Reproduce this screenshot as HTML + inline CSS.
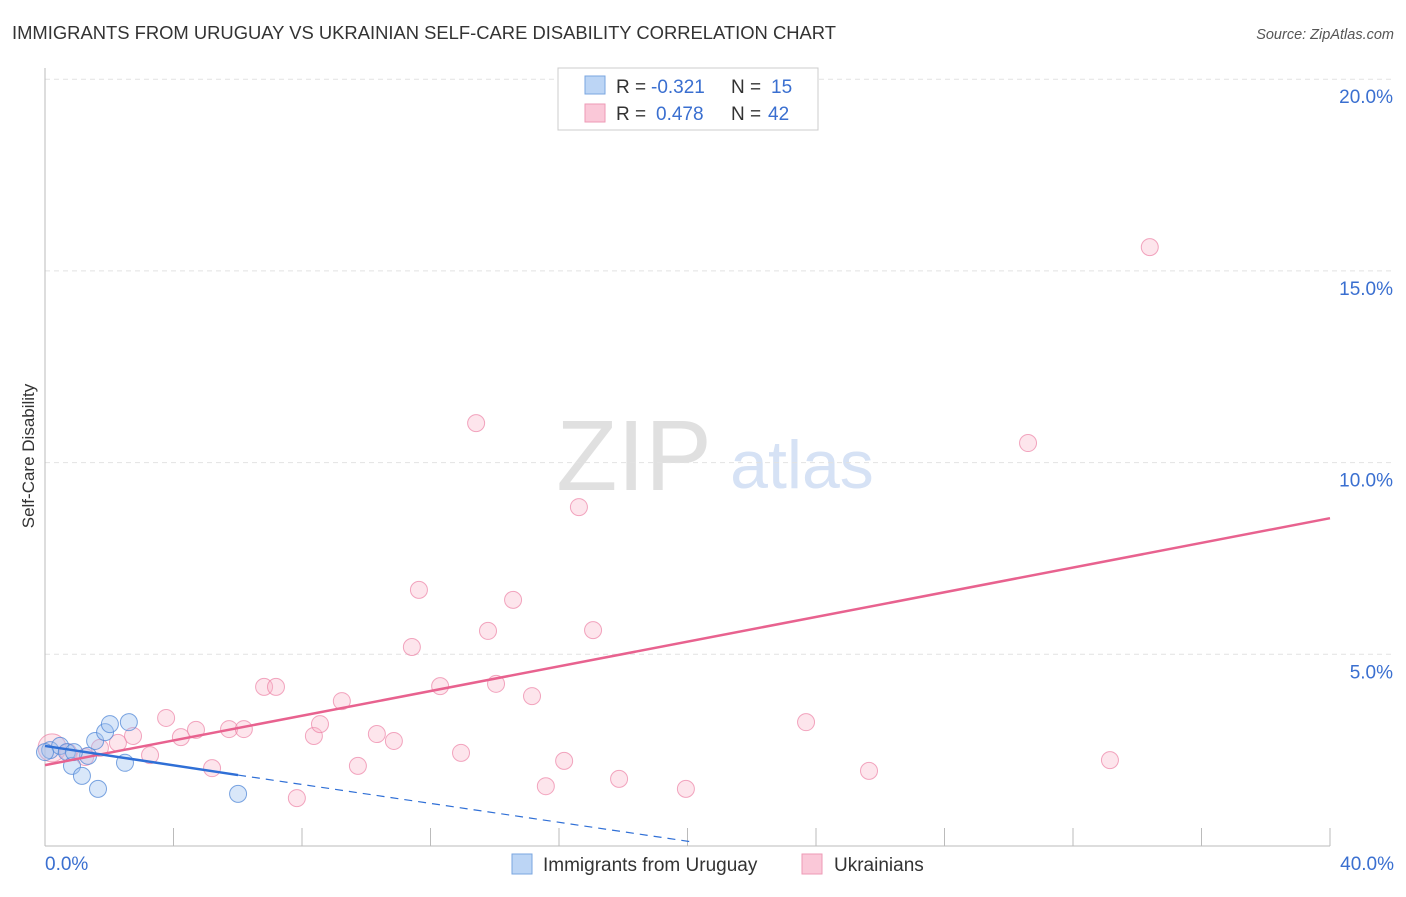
<!DOCTYPE html>
<html><head><meta charset="utf-8"><style>
body{margin:0;background:#fff;font-family:"Liberation Sans",sans-serif;}
svg text{font-family:"Liberation Sans",sans-serif;}
</style></head><body>
<svg id="c" width="1406" height="892">
<text x="12" y="39" font-size="18.4" fill="#333">IMMIGRANTS FROM URUGUAY VS UKRAINIAN SELF-CARE DISABILITY CORRELATION CHART</text>
<text x="1394" y="39" font-size="14.5" fill="#555" font-style="italic" text-anchor="end">Source: ZipAtlas.com</text>
<text x="34" y="456" font-size="17" fill="#333" text-anchor="middle" transform="rotate(-90 34 456)">Self-Care Disability</text>
<text x="634" y="490" font-size="100" fill="#e0e0e0" font-family="Liberation Serif" text-anchor="middle">ZIP</text>
<text x="802" y="488" font-size="68" fill="#d6e2f5" text-anchor="middle">atlas</text>
<g id="grid"></g><g id="marks"></g>
<g>
<rect x="558" y="68" width="260" height="62" fill="#fff" stroke="#ccc"/>
<rect x="585" y="76" width="20" height="18" fill="#bcd5f5" stroke="#7aa6e0"/>
<rect x="585" y="104" width="20" height="18" fill="#fac8d8" stroke="#ee9ab6"/>
<text x="616" y="93" font-size="19" fill="#333">R =</text>
<text x="651" y="93" font-size="19" fill="#3a6fd0">-0.321</text>
<text x="731" y="93" font-size="19" fill="#333">N =</text>
<text x="771" y="93" font-size="19" fill="#3a6fd0">15</text>
<text x="616" y="120" font-size="19" fill="#333">R =</text>
<text x="656" y="120" font-size="19" fill="#3a6fd0">0.478</text>
<text x="731" y="120" font-size="19" fill="#333">N =</text>
<text x="768" y="120" font-size="19" fill="#3a6fd0">42</text>
</g>
<g>
<rect x="512" y="854" width="20" height="20" fill="#bcd5f5" stroke="#7aa6e0"/>
<text x="543" y="871" font-size="19" fill="#333">Immigrants from Uruguay</text>
<rect x="802" y="854" width="20" height="20" fill="#fac8d8" stroke="#ee9ab6"/>
<text x="834" y="871" font-size="19" fill="#333">Ukrainians</text>
</g>
</svg>
<script>
const blueX=[0.16,0.47,0.68,0.84,1.15,1.34,1.56,1.65,1.87,2.02,2.49,2.61,6.01,0.0,0.9];
const blueY=[2.50,2.61,2.45,2.09,1.83,2.35,2.74,1.49,2.97,3.18,2.17,3.23,1.36,2.45,2.45];
const pinkX=[0.22,0.72,1.25,1.71,2.27,2.74,3.27,3.77,4.23,4.70,5.20,5.73,6.19,6.82,7.19,7.84,8.37,8.56,9.24,9.74,10.33,10.86,11.42,11.64,12.30,12.95,13.42,13.79,14.04,14.57,15.16,15.59,16.16,16.62,17.06,17.87,19.95,23.69,25.65,30.60,33.15,34.39];
const pinkY=[2.56,2.45,2.32,2.56,2.69,2.87,2.37,3.34,2.84,3.03,2.03,3.05,3.05,4.15,4.15,1.25,2.87,3.18,3.78,2.09,2.92,2.74,5.19,6.68,4.17,2.43,11.03,5.61,4.23,6.42,3.91,1.56,2.22,8.84,5.63,1.75,1.49,3.23,1.96,10.51,2.24,15.62];
const yTicks=[5,10,15,20];
const xTickLabels=["0.0%","40.0%"];
const blueLine=[[0,2.61],[6.01,1.85],[20.2,0.1]];
const pinkLine=[[0,2.11],[40,8.55]];
const NS="http://www.w3.org/2000/svg";
const X=v=>45+v/40*1285, Y=v=>846-v/5*191.7;
function mk(t,a,p){const e=document.createElementNS(NS,t);for(const k in a)e.setAttribute(k,a[k]);p.appendChild(e);return e;}
const g=document.getElementById('grid'),m=document.getElementById('marks');
yTicks.forEach(t=>{
 const l=mk('line',{x1:45,x2:1394,y1:Y(t),y2:Y(t),stroke:'#e2e2e2','stroke-dasharray':'5,4'},g);
 
 
 const tx=mk('text',{x:1393,y:Y(t)+24,'font-size':19,fill:'#3a6fd0','text-anchor':'end'},g);
 tx.textContent=t.toFixed(1)+'%';
 
 
});
let ax=mk('line',{x1:45,x2:45,y1:68,y2:846,stroke:'#bbb'},g);


ax=mk('line',{x1:45,x2:1330,y1:846,y2:846,stroke:'#bbb'},g);


for(let i=0;i<=10;i++){const t=mk('line',{x1:X(i*4),x2:X(i*4),y1:828,y2:846,stroke:'#bbb'},g);
 
 }
[[0,'start',45],[40,'end',1394]].forEach((d,i)=>{const t=mk('text',{x:d[2],y:870,'font-size':19,fill:'#3a6fd0','text-anchor':d[1]},g);t.textContent=xTickLabels[i];
 
 });
pinkX.forEach((x,i)=>{const c=mk('circle',{cx:X(x),cy:Y(pinkY[i]),r:i==0?14:8.5,fill:'rgba(248,180,200,0.35)',stroke:'rgba(236,130,165,0.7)'},m);
 
 });
blueX.forEach((x,i)=>{const c=mk('circle',{cx:X(x),cy:Y(blueY[i]),r:8.5,fill:'rgba(160,195,240,0.4)',stroke:'rgba(80,135,215,0.75)'},m);
 
 });
let l=mk('line',{x1:X(pinkLine[0][0]),y1:Y(pinkLine[0][1]),x2:X(pinkLine[1][0]),y2:Y(pinkLine[1][1]),stroke:'#e8628f','stroke-width':2.5},m);


l=mk('line',{x1:X(blueLine[0][0]),y1:Y(blueLine[0][1]),x2:X(blueLine[1][0]),y2:Y(blueLine[1][1]),stroke:'#2f6fd6','stroke-width':2.5},m);


l=mk('line',{x1:X(blueLine[1][0]),y1:Y(blueLine[1][1]),x2:X(blueLine[2][0]),y2:Y(blueLine[2][1]),stroke:'#2f6fd6','stroke-width':1.2,'stroke-dasharray':'8,6'},m);


</script>
</body></html>
